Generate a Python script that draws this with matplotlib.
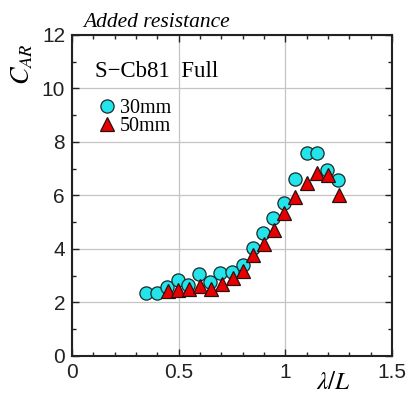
import numpy as np
import matplotlib
matplotlib.use("Agg")
import matplotlib.pyplot as plt
from matplotlib.ticker import MultipleLocator

plt.rcParams['mathtext.fontset'] = 'stix'
plt.rcParams['font.family'] = 'Liberation Sans'

# Measured added resistance coefficient vs wave length ratio
wl_30mm = [0.347, 0.397, 0.444, 0.498, 0.545, 0.597, 0.647, 0.694, 0.749, 0.800,
           0.850, 0.897, 0.944, 0.994, 1.045, 1.100, 1.147, 1.197, 1.249]
car_30mm = [2.34, 2.37, 2.59, 2.84, 2.65, 3.07, 2.78, 3.11, 3.15, 3.40,
            4.02, 4.61, 5.15, 5.71, 6.60, 7.60, 7.60, 6.95, 6.58]

wl_50mm = [0.449, 0.498, 0.550, 0.600, 0.650, 0.702, 0.753, 0.803, 0.850,
           0.900, 0.949, 0.995, 1.045, 1.100, 1.150, 1.202, 1.252]
car_50mm = [2.44, 2.47, 2.49, 2.62, 2.49, 2.68, 2.90, 3.19, 3.78,
            4.19, 4.71, 5.33, 5.96, 6.48, 6.85, 6.77, 6.02]

fig = plt.figure(figsize=(4.08, 3.99), dpi=100)
ax = fig.add_axes([0.1765, 0.1078, 0.7843, 0.8045])

ax.plot(wl_30mm, car_30mm, 'o', ms=9.5, mfc='#22e4ea', mec='#1a2a2a', mew=0.9,
        label='30mm', zorder=3)
ax.plot(wl_50mm, car_50mm, '^', ms=9.5, mfc='#e80000', mec='#2a1010', mew=0.9,
        label='50mm', zorder=4)

ax.set_xlim(0, 1.5)
ax.set_ylim(0, 12)
ax.xaxis.set_major_locator(MultipleLocator(0.5))
ax.xaxis.set_minor_locator(MultipleLocator(0.1))
ax.yaxis.set_major_locator(MultipleLocator(2))
ax.yaxis.set_minor_locator(MultipleLocator(1))
ax.set_xticks([0, 0.5, 1, 1.5])
ax.set_xticklabels(['0', '0.5', '1', '1.5'])
ax.grid(True, which='major', color='#c4c4c4', lw=0.9, zorder=0)
ax.set_axisbelow(True)

ax.tick_params(which='both', direction='in', top=True, right=True,
               labelsize=15, colors='#222222', width=1.0)
ax.tick_params(which='major', length=5, pad=5)
ax.tick_params(which='minor', length=3)
for s in ax.spines.values():
    s.set_linewidth(1.5)
    s.set_color('#222222')

# labels
fig.text(0.054, 0.84, r'$C_{AR}$', rotation=90, fontsize=19,
         ha='center', va='center')
fig.text(0.816, 0.042, r'$\lambda/L$', fontsize=18, ha='center', va='center')
fig.text(0.203, 0.932, 'Added resistance', family='Liberation Serif',
         style='italic', fontsize=15.5, ha='left', va='baseline')
ax.text(0.072, 0.869, 'S\u2212Cb81  Full', family='Liberation Serif',
        fontsize=16.5, transform=ax.transAxes, ha='left', va='baseline')

ax.legend(loc='upper left', bbox_to_anchor=(0.08, 0.80), frameon=False,
          handlelength=0.9, handletextpad=0.2, labelspacing=-0.05,
          borderpad=0, borderaxespad=0,
          prop={'family': 'Liberation Serif', 'size': 14.5})

fig.savefig('out.png', dpi=100)
